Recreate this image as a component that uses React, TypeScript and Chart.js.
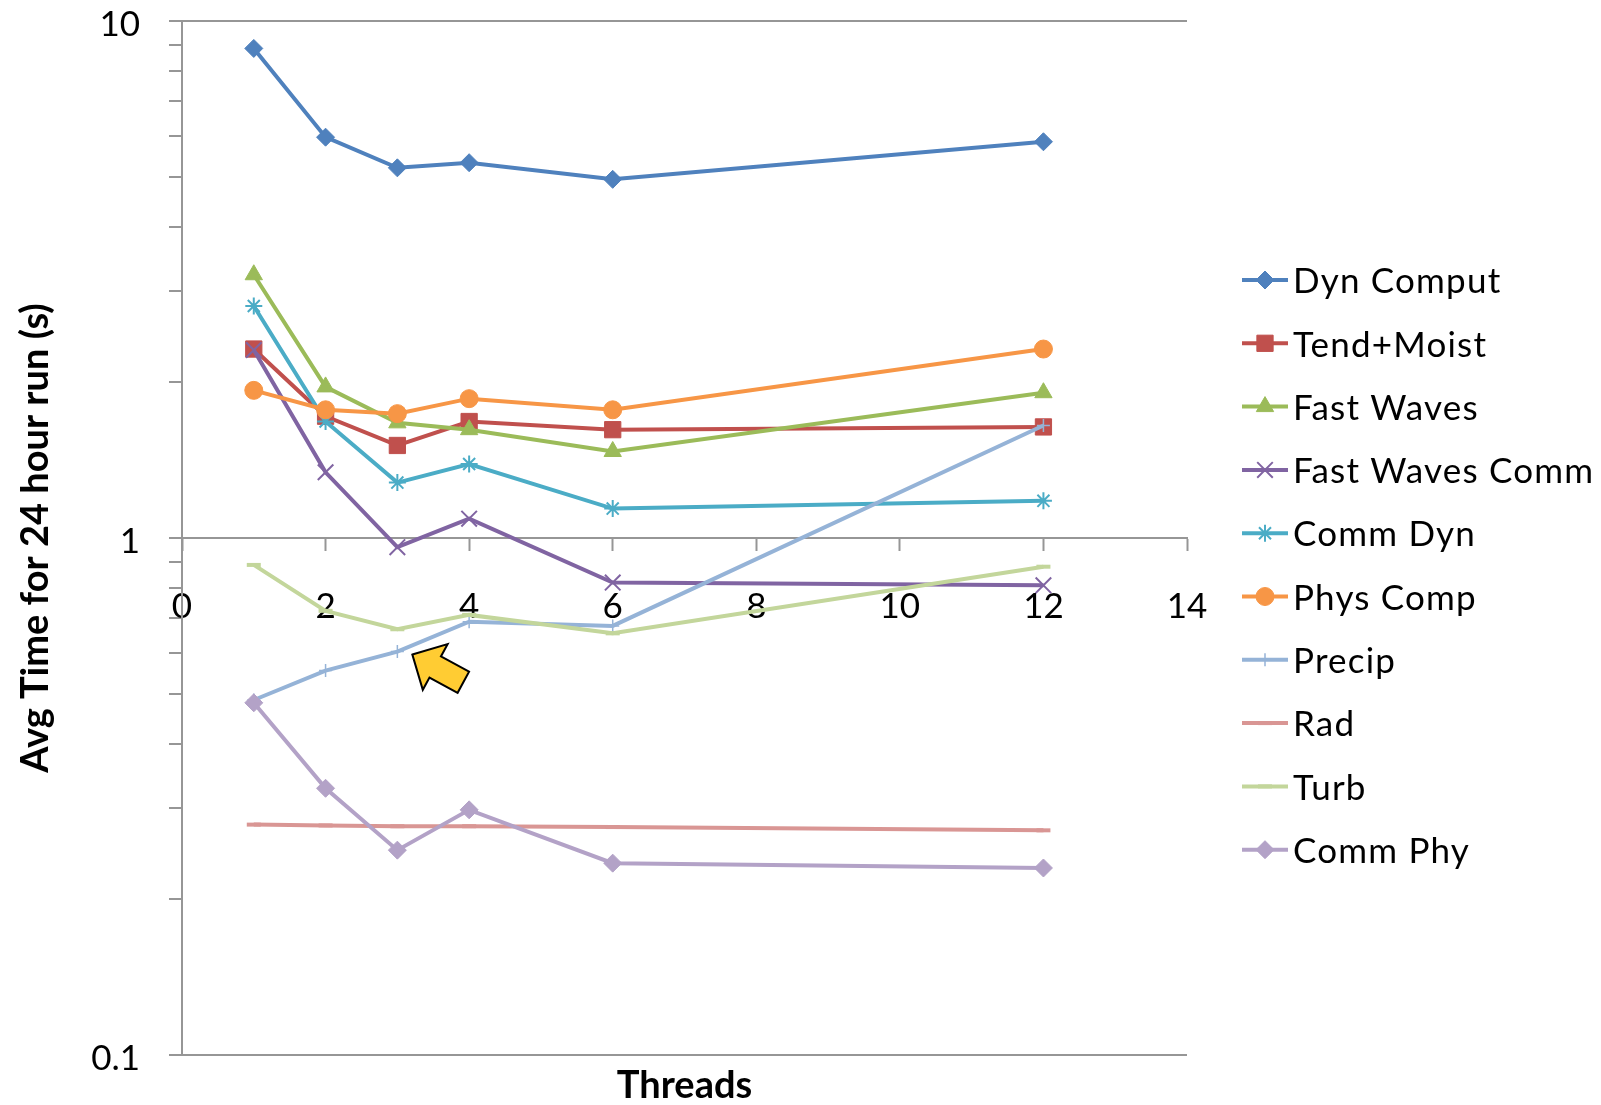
import React, { useEffect, useRef } from 'react';
import { Chart, registerables, PointElement } from 'chart.js';

Chart.register(...registerables);

// ---- data ----
const threads = [1, 2, 3, 4, 6, 12];
const seriesNames = [
  'Dyn Comput',
  'Tend+Moist',
  'Fast Waves',
  'Fast Waves Comm',
  'Comm Dyn',
  'Phys Comp',
  'Precip',
  'Rad',
  'Turb',
  'Comm Phy',
];
const dynComput = [8.85, 5.96, 5.2, 5.32, 4.94, 5.84];
const tendMoist = [2.32, 1.72, 1.51, 1.68, 1.62, 1.64];
const fastWaves = [3.23, 1.96, 1.67, 1.62, 1.47, 1.91];
const fastWavesComm = [2.31, 1.34, 0.96, 1.09, 0.82, 0.81];
const commDyn = [2.81, 1.68, 1.28, 1.39, 1.14, 1.18];
const physComp = [1.93, 1.77, 1.74, 1.86, 1.77, 2.32];
const precip = [0.486, 0.554, 0.603, 0.689, 0.676, 1.65];
const rad = [0.279, 0.278, 0.277, 0.277, 0.276, 0.272];
const turb = [0.887, 0.723, 0.666, 0.71, 0.654, 0.88];
const commPhy = [0.48, 0.328, 0.249, 0.298, 0.235, 0.23];
const seriesValues = [dynComput, tendMoist, fastWaves, fastWavesComm, commDyn, physComp, precip, rad, turb, commPhy];

const xTickValues = [0, 2, 4, 6, 8, 10, 12, 14];
const yTickValues = [0.1, 0.2, 0.3, 0.4, 0.5, 0.6, 0.7, 0.8, 0.9, 1, 2, 3, 4, 5, 6, 7, 8, 9, 10];
const yLabelValues = [0.1, 1, 10];
const xTitle = 'Threads';
const yTitle = 'Avg Time for 24 hour run (s)';

// ---- styles ----
const FONT = 'Lato, "Open Sans", sans-serif';
const FONT_SIZE = 35;
const TITLE_SIZE = 38;
const GRID = '#969696';
const LINE_W = 4;
const styles = [
  { color: '#4F81BD', pointStyle: 'rectRot', radius: 9, pbw: 1 },
  { color: '#C0504D', pointStyle: 'rect', radius: 11.5, pbw: 1 },
  { color: '#9BBB59', pointStyle: 'triangle', radius: 10, pbw: 1 },
  { color: '#8064A2', pointStyle: 'crossRot', radius: 11, pbw: 2 },
  { color: '#4BACC6', pointStyle: 'star', radius: 8.5, pbw: 2 },
  { color: '#F79646', pointStyle: 'circle', radius: 9, pbw: 1 },
  { color: '#95B3D7', pointStyle: 'cross', radius: 6.5, pbw: 1.5 },
  { color: '#D99694', pointStyle: 'line', radius: 7, pbw: 4 },
  { color: '#C3D69B', pointStyle: 'line', radius: 7, pbw: 4 },
  { color: '#B3A2C7', pointStyle: 'rectRot', radius: 9, pbw: 1 },
];

// legend layout
const LEG_X0 = 1242;
const LEG_X1 = 1288;
const LEG_TEXT_X = 1293;
const LEG_TOP = 280;
const LEG_STEP = 63.3;

const legendPlugin = {
  id: 'sideLegend',
  afterDraw(chart: any) {
    const ctx = chart.ctx as CanvasRenderingContext2D;
    ctx.save();
    seriesNames.forEach((name, i) => {
      const st = styles[i];
      const y = LEG_TOP + i * LEG_STEP;
      ctx.strokeStyle = st.color;
      ctx.lineWidth = LINE_W;
      ctx.lineCap = 'butt';
      ctx.beginPath();
      ctx.moveTo(LEG_X0, y);
      ctx.lineTo(LEG_X1, y);
      ctx.stroke();
      const pt: any = new (PointElement as any)({
        x: (LEG_X0 + LEG_X1) / 2,
        y,
        options: {
          pointStyle: st.pointStyle,
          rotation: 0,
          radius: st.radius,
          borderWidth: st.pbw,
          borderColor: st.color,
          backgroundColor: st.color,
          hoverRadius: 0,
          hoverBorderWidth: 0,
          hitRadius: 0,
        },
      });
      pt.draw(ctx);
      ctx.fillStyle = '#000';
      ctx.font = `${FONT_SIZE}px ${FONT}`;
      (ctx as any).letterSpacing = '1.2px';
      ctx.textBaseline = 'middle';
      ctx.textAlign = 'left';
      ctx.fillText(name, LEG_TEXT_X, y + 2);
      (ctx as any).letterSpacing = '0px';
    });
    ctx.restore();
  },
};

// arrow annotation pointing at Precip, 3 threads
const arrowPlugin = {
  id: 'arrowNote',
  afterDatasetsDraw(chart: any) {
    const meta = chart.getDatasetMeta(6);
    const p = meta && meta.data && meta.data[2];
    if (!p) return;
    const ctx = chart.ctx as CanvasRenderingContext2D;
    const tipX = p.x + 15;
    const tipY = p.y + 3;
    const ang = (28.5 * Math.PI) / 180;
    const ux = Math.cos(ang), uy = Math.sin(ang);
    const vx = -uy, vy = ux;
    const pts = [
      [0, 0],
      [26, -26],
      [26, -12],
      [58, -12],
      [58, 12],
      [26, 12],
      [26, 26],
    ];
    ctx.save();
    ctx.beginPath();
    pts.forEach(([a, b], k) => {
      const px = tipX + a * ux + b * vx;
      const py = tipY + a * uy + b * vy;
      if (k === 0) ctx.moveTo(px, py);
      else ctx.lineTo(px, py);
    });
    ctx.closePath();
    ctx.fillStyle = '#FFCC33';
    ctx.fill();
    ctx.lineWidth = 2;
    ctx.lineJoin = 'miter';
    ctx.strokeStyle = '#000';
    ctx.stroke();
    ctx.restore();
  },
};

export default function App() {
  const ref = useRef<HTMLCanvasElement>(null);
  useEffect(() => {
    if (!ref.current) return;
    Chart.defaults.font.family = FONT;
    const datasets = seriesNames.map((name, i) => {
      const st = styles[i];
      return {
        label: name,
        data: threads.map((t, j) => ({ x: t, y: seriesValues[i][j] })),
        borderColor: st.color,
        backgroundColor: st.color,
        borderWidth: LINE_W,
        pointStyle: st.pointStyle,
        pointRadius: st.radius,
        pointBorderWidth: st.pbw,
        pointBackgroundColor: st.color,
        pointBorderColor: st.color,
        tension: 0,
        order: 20 - i,
        clip: false,
      };
    });
    const chart = new Chart(ref.current, {
      type: 'line',
      data: { datasets } as any,
      plugins: [legendPlugin, arrowPlugin],
      options: {
        responsive: false,
        animation: false,
        devicePixelRatio: 1,
        layout: { padding: { top: 21, right: 414, bottom: 0, left: 0 } },
        plugins: { legend: { display: false }, tooltip: { enabled: false }, title: { display: false } },
        scales: {
          x: {
            type: 'linear',
            min: 0,
            max: 14,
            position: { y: 1 } as any,
            afterBuildTicks: (s: any) => {
              s.ticks = xTickValues.map((v) => ({ value: v }));
            },
            afterFit: (s: any) => {
              s.height = 0;
              s.paddingTop = 0;
              s.paddingBottom = 0;
            },
            ticks: {
              font: { family: FONT, size: FONT_SIZE },
              color: '#000',
              padding: 36,
              autoSkip: false,
              maxRotation: 0,
            },
            grid: { drawOnChartArea: false, drawTicks: true, tickLength: 12, tickColor: GRID, tickWidth: 2 },
            border: { display: true, color: GRID, width: 2 },
          },
          x2: {
            type: 'linear',
            position: 'bottom',
            display: true,
            ticks: { display: false },
            grid: { display: false, drawTicks: false },
            border: { display: false },
            title: {
              display: true,
              text: xTitle,
              font: { family: FONT, size: TITLE_SIZE, weight: 'bold', lineHeight: 1 },
              color: '#000',
              padding: { top: 0, bottom: 0 },
            },
            afterFit: (s: any) => {
              s.height = 50;
              s.paddingTop = 0;
              s.paddingBottom = 0;
            },
          },
          y: {
            type: 'logarithmic',
            min: 0.1,
            max: 10,
            position: 'left',
            afterBuildTicks: (s: any) => {
              s.ticks = yTickValues.map((v) => ({ value: v, major: false }));
            },
            afterFit: (s: any) => {
              s.width = 182;
              s.paddingTop = 0;
              s.paddingBottom = 0;
            },
            ticks: {
              autoSkip: false,
              callback: (v: any) => (yLabelValues.includes(Number(v)) ? String(v) : ''),
              font: { family: FONT, size: FONT_SIZE },
              color: '#000',
              padding: 29,
              labelOffset: 4,
            },
            grid: {
              color: (ctx: any) => (ctx.tick && yLabelValues.includes(ctx.tick.value) ? GRID : 'rgba(0,0,0,0)'),
              lineWidth: 2,
              tickColor: GRID,
              tickLength: 13,
              tickWidth: 2,
            },
            border: { display: true, color: GRID, width: 2 },
            title: {
              display: true,
              text: yTitle,
              font: { family: FONT, size: TITLE_SIZE, weight: 'bold', lineHeight: 1 },
              color: '#000',
              padding: { top: 17, bottom: 0 },
            },
          },
        },
      } as any,
    });
    return () => chart.destroy();
  }, []);
  return (
    <div style={{ position: 'fixed', left: 0, top: 0, width: 1601, height: 1105, background: '#fff' }}>
      <canvas ref={ref} width={1601} height={1105} style={{ display: 'block', width: 1601, height: 1105 }} />
    </div>
  );
}
